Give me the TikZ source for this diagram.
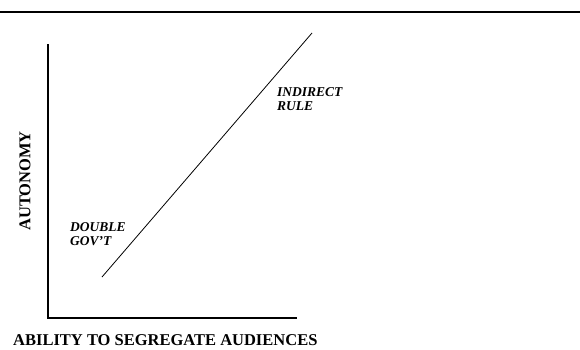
\documentclass[tikz,border=0pt]{standalone}
\usepackage{fontspec}
\setmainfont{Liberation Serif}
\usetikzlibrary{positioning}
\tikzset{
  axis/.style={line width=2.2pt,line cap=rect},
  trend/.style={line width=0.8pt},
  axlabel/.style={font=\fontsize{16.5}{18}\selectfont\bfseries,inner sep=0pt},
  region/.style={font=\fontsize{13.5}{14.5}\selectfont\bfseries\itshape,align=left,inner sep=0pt,anchor=north west}
}
\begin{document}
\begin{tikzpicture}[x=1pt,y=-1pt]
  \useasboundingbox (0,0) rectangle (580,349);
  \draw[line width=2pt] (0,12) -- (580,12);
  % axes
  \coordinate (top) at (48,45);
  \coordinate (origin) at (48,318);
  \coordinate (right) at (296,318);
  \draw[axis] (top) -- (origin) -- (right);
  % trend line
  \coordinate (low) at (102,277);
  \coordinate (high) at (312,33);
  \draw[trend] (low) -- (high);
  % labels
  \node[axlabel,rotate=90] (autonomy) at (25,181) {AUTONOMY};
  \node[axlabel,anchor=base west] (ability) at (13,345) {ABILITY TO SEGREGATE AUDIENCES};
  \node[region] (indirect) at (277,87) {INDIRECT\\RULE};
  \node[region] (double) at (70,222) {DOUBLE\\GOV'T};
\end{tikzpicture}
\end{document}
